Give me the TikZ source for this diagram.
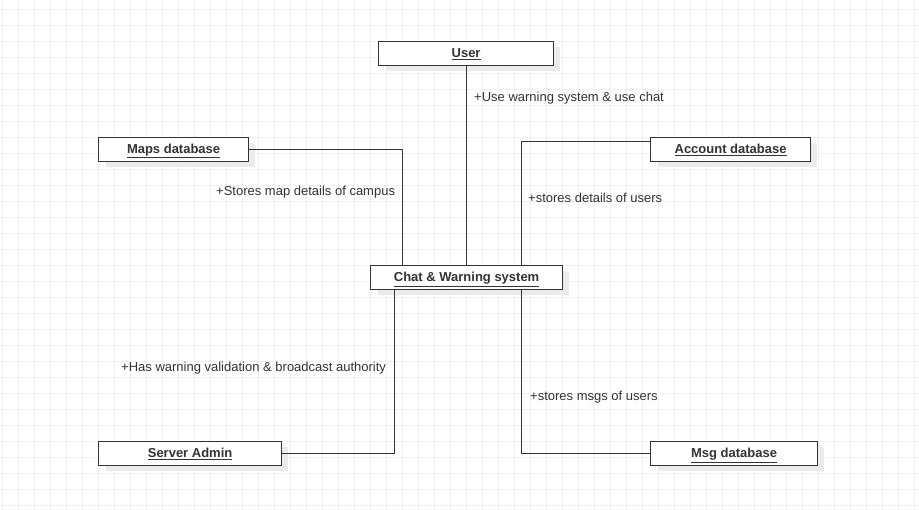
\documentclass[tikz,border=0pt]{standalone}
\usepackage{fontspec}
\setmainfont{Liberation Sans}
\usetikzlibrary{calc}
\definecolor{gridc}{HTML}{F0F0F0}
\definecolor{shadc}{HTML}{EBEBEB}
\definecolor{linec}{HTML}{333333}
\definecolor{txtc}{HTML}{333333}
\begin{document}
\begin{tikzpicture}[x=1pt,y=-1pt,
  cls/.style={draw=black!80, line width=1.2pt, fill=white, rectangle, inner sep=0pt,
    text height=10pt, text depth=2pt,
    font=\fontsize{13}{15}\selectfont\bfseries, text=txtc, anchor=north west},
  conn/.style={draw=linec, line width=0.9pt},
  lbl/.style={font=\fontsize{13}{15}\selectfont, text=txtc, anchor=west, inner sep=0pt}]
\useasboundingbox (0,0) rectangle (919,510);
\fill[white] (0,0) rectangle (919,510);
\foreach \i in {0,...,57} {\draw[gridc, line width=0.8pt] (2+16*\i,0) -- (2+16*\i,510);}
\foreach \j in {0,...,31} {\draw[gridc, line width=0.8pt] (0,9+16*\j) -- (919,9+16*\j);}
% shadows
\foreach \a/\b/\c/\d in {378/41/553/65, 98/137/248/161, 650/137/810/161, 370/265/562/289, 98/441/281/465, 650/441/817/465}
  {\fill[shadc] (\a+8,\b+6) rectangle (\c+7,\d+6);}
% boxes
\node[cls, minimum width=175pt, minimum height=24pt] (user) at (378,41) {\underline{User}};
\node[cls, minimum width=150pt, minimum height=24pt] (maps) at (98,137) {\underline{Maps database}};
\node[cls, minimum width=160pt, minimum height=24pt] (acc) at (650,137) {\underline{Account database}};
\node[cls, minimum width=192pt, minimum height=24pt] (chat) at (370,265) {\underline{Chat \& Warning system}};
\node[cls, minimum width=183pt, minimum height=24pt] (admin) at (98,441) {\underline{Server Admin}};
\node[cls, minimum width=167pt, minimum height=24pt] (msg) at (650,441) {\underline{Msg database}};
% connectors
\coordinate (cu) at (user.south |- chat.north);
\coordinate (cm) at ([xshift=32pt]chat.north west);
\coordinate (ca) at ([xshift=151pt]chat.north west);
\coordinate (cs) at ([xshift=24pt]chat.south west);
\coordinate (cg) at ([xshift=151pt]chat.south west);
\coordinate (aw) at ([yshift=8pt]acc.west);
\draw[conn] (user.south) -- (cu);
\draw[conn] (maps.east) -| (cm);
\draw[conn] (aw) -| (ca);
\draw[conn] (cs) |- (admin.east);
\draw[conn] (cg) |- (msg.west);
% labels
\node[lbl] (l1) at (474,98) {+Use warning system \& use chat};
\node[lbl] (l2) at (216,192) {+Stores map details of campus};
\node[lbl] (l3) at (528,198) {+stores details of users};
\node[lbl] (l4) at (121,368) {+Has warning validation \& broadcast authority};
\node[lbl] (l5) at (530,397) {+stores msgs of users};
\end{tikzpicture}
\end{document}
